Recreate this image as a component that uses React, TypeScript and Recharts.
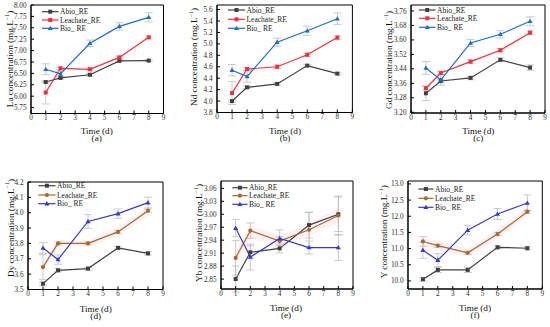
import React from 'react';
import { ComposedChart, Line, Area, XAxis, YAxis, ErrorBar, ReferenceArea } from 'recharts';

// ---------- data ----------
const days = [1, 2, 4, 6, 8];
const xTicks = [0, 1, 2, 3, 4, 5, 6, 7, 8, 9];
const seriesNames = ['Abio_RE', 'Leachate_RE', 'Bio_ RE'];

// (a) La
const laAbio = [6.31, 6.4, 6.47, 6.775, 6.78];
const laLeach = [6.08, 6.61, 6.59, 6.85, 7.29];
const laBio = [6.59, 6.49, 7.16, 7.53, 7.73];
const laAbioErr = [0.02, 0.02, 0.03, 0.02, 0.02];
const laLeachErr = [0.25, 0.03, 0.03, 0.03, 0.03];
const laBioErr = [0.12, 0.05, 0.07, 0.08, 0.1];
const laTicks = [5.75, 6.0, 6.25, 6.5, 6.75, 7.0, 7.25, 7.5, 7.75, 8.0];

// (b) Nd
const ndAbio = [4.0, 4.24, 4.3, 4.62, 4.48];
const ndLeach = [4.14, 4.56, 4.6, 4.81, 5.11];
const ndBio = [4.54, 4.43, 5.03, 5.23, 5.44];
const ndAbioErr = [0.02, 0.02, 0.02, 0.02, 0.02];
const ndLeachErr = [0.2, 0.03, 0.03, 0.03, 0.03];
const ndBioErr = [0.1, 0.1, 0.07, 0.08, 0.1];
const ndTicks = [3.8, 4.0, 4.2, 4.4, 4.6, 4.8, 5.0, 5.2, 5.4, 5.6];

// (c) Gd
const gdAbio = [3.305, 3.373, 3.39, 3.49, 3.447];
const gdLeach = [3.333, 3.417, 3.48, 3.543, 3.64];
const gdBio = [3.445, 3.379, 3.583, 3.631, 3.703];
const gdAbioErr = [0.04, 0.01, 0.01, 0.01, 0.015];
const gdLeachErr = [0.01, 0.01, 0.01, 0.01, 0.01];
const gdBioErr = [0.035, 0.03, 0.02, 0.02, 0.025];
const gdTicks = [3.2, 3.28, 3.36, 3.44, 3.52, 3.6, 3.68, 3.76];

// (d) Dy
const dyAbio = [3.538, 3.625, 3.636, 3.771, 3.735];
const dyLeach = [3.646, 3.8, 3.8, 3.875, 4.013];
const dyBio = [3.77, 3.695, 3.943, 3.994, 4.066];
const dyAbioErr = [0.01, 0.01, 0.01, 0.01, 0.01];
const dyLeachErr = [0.08, 0.01, 0.01, 0.01, 0.01];
const dyBioErr = [0.035, 0.03, 0.045, 0.03, 0.035];
const dyBandLo = [3.62, 3.78, 3.78, 3.85, 3.98];
const dyBandHi = [3.67, 3.82, 3.82, 3.9, 4.04];
const dyTicks = [3.5, 3.6, 3.7, 3.8, 3.9, 4.0, 4.1, 4.2];

// (e) Yb
const ybAbio = [2.85, 2.912, 2.921, 2.975, 3.0];
const ybLeach = [2.899, 2.962, 2.938, 2.964, 2.997];
const ybBio = [2.968, 2.901, 2.944, 2.923, 2.923];
const ybAbioErr = [0.03, 0.015, 0.01, 0.03, 0.04];
const ybLeachErr = [0.04, 0.018, 0.01, 0.04, 0.045];
const ybBioErr = [0.02, 0.03, 0.02, 0.015, 0.03];
const ybBandLo = [2.885, 2.945, 2.925, 2.95, 2.98];
const ybBandHi = [2.915, 2.975, 2.95, 2.98, 3.015];
const ybTicks = [2.85, 2.88, 2.91, 2.94, 2.97, 3.0, 3.03, 3.06];

// (f) Y
const yAbio = [10.05, 10.34, 10.34, 11.04, 11.01];
const yLeach = [11.22, 11.09, 10.87, 11.45, 12.14];
const yBio = [10.95, 10.64, 11.57, 12.07, 12.41];
const yAbioErr = [0.05, 0.08, 0.08, 0.05, 0.05];
const yLeachErr = [0.15, 0.05, 0.05, 0.05, 0.05];
const yBioErr = [0.25, 0.2, 0.15, 0.17, 0.25];
const yBandLo = [11.05, 10.95, 10.75, 11.3, 12.0];
const yBandHi = [11.35, 11.25, 11.0, 11.6, 12.3];
const yTicks = [10.0, 10.5, 11.0, 11.5, 12.0, 12.5, 13.0];

// ---------- styles ----------
const FONT = '"Liberation Serif", "DejaVu Serif", serif';
const abioColor = '#404040';
const topColors = [abioColor, '#f0303a', '#1b6dd1'];
const botColors = [abioColor, '#a8692e', '#3737d0'];
const errColor = '#bdbdbd';
const bandColor = '#fdeef1';

type Box = { l: number; r: number; t: number; b: number };
type PanelCfg = {
  element: string;
  letter: string;
  abio: number[];
  leach: number[];
  bio: number[];
  abioErr: number[];
  leachErr: number[];
  bioErr: number[];
  bandLo?: number[];
  bandHi?: number[];
  ticks: number[];
  domain: [number, number];
  dec: number;
  colors: string[];
  leachCircle: boolean;
  plot: Box;
  yTitle: [number, number];
  xTitle: [number, number];
  legend: { lx: number; tx: number; ys: number[] };
};

const panels: PanelCfg[] = [
  {
    element: 'La', letter: '(a)', abio: laAbio, leach: laLeach, bio: laBio,
    abioErr: laAbioErr, leachErr: laLeachErr, bioErr: laBioErr,
    ticks: laTicks, domain: [5.62, 8.0], dec: 2, colors: topColors, leachCircle: false,
    plot: { l: 30.5, r: 163, t: 5, b: 113.5 }, yTitle: [10, 59], xTitle: [96.7, 130.5],
    legend: { lx: 42, tx: 60, ys: [11.7, 20, 28.3] },
  },
  {
    element: 'Nd', letter: '(b)', abio: ndAbio, leach: ndLeach, bio: ndBio,
    abioErr: ndAbioErr, leachErr: ndLeachErr, bioErr: ndBioErr,
    ticks: ndTicks, domain: [3.8, 5.68], dec: 1, colors: topColors, leachCircle: false,
    plot: { l: 217.3, r: 352.7, t: 5, b: 112.5 }, yTitle: [194, 57], xTitle: [285, 130.5],
    legend: { lx: 228, tx: 246.5, ys: [10, 19.3, 28.3] },
  },
  {
    element: 'Gd', letter: '(c)', abio: gdAbio, leach: gdLeach, bio: gdBio,
    abioErr: gdAbioErr, leachErr: gdLeachErr, bioErr: gdBioErr,
    ticks: gdTicks, domain: [3.196, 3.793], dec: 2, colors: topColors, leachCircle: false,
    plot: { l: 411, r: 545, t: 5, b: 113 }, yTitle: [389, 60], xTitle: [478.3, 130.5],
    legend: { lx: 419, tx: 437, ys: [10, 18.3, 27.3] },
  },
  {
    element: 'Dy', letter: '(d)', abio: dyAbio, leach: dyLeach, bio: dyBio,
    abioErr: dyAbioErr, leachErr: dyLeachErr, bioErr: dyBioErr, bandLo: dyBandLo, bandHi: dyBandHi,
    ticks: dyTicks, domain: [3.5, 4.2], dec: 1, colors: botColors, leachCircle: true,
    plot: { l: 28, r: 163, t: 181.5, b: 289 }, yTitle: [10.5, 228], xTitle: [95.7, 308.5],
    legend: { lx: 38.3, tx: 57, ys: [185.7, 195, 203.7] },
  },
  {
    element: 'Yb', letter: '(e)', abio: ybAbio, leach: ybLeach, bio: ybBio,
    abioErr: ybAbioErr, leachErr: ybLeachErr, bioErr: ybBioErr, bandLo: ybBandLo, bandHi: ybBandHi,
    ticks: ybTicks, domain: [2.827, 3.077], dec: 2, colors: botColors, leachCircle: true,
    plot: { l: 221, r: 353, t: 181, b: 289 }, yTitle: [199, 233], xTitle: [286, 307.5],
    legend: { lx: 232.3, tx: 249, ys: [187.7, 195.7, 204.3] },
  },
  {
    element: 'Y', letter: '(f)', abio: yAbio, leach: yLeach, bio: yBio,
    abioErr: yAbioErr, leachErr: yLeachErr, bioErr: yBioErr, bandLo: yBandLo, bandHi: yBandHi,
    ticks: yTicks, domain: [9.75, 13.09], dec: 1, colors: botColors, leachCircle: true,
    plot: { l: 407.7, r: 542, t: 181, b: 289 }, yTitle: [384.5, 231.7], xTitle: [475, 307.5],
    legend: { lx: 418.3, tx: 435, ys: [189, 198.3, 207.3] },
  },
];

// ---------- markers ----------
function Marker({ kind, cx, cy, color }: { kind: string; cx: number; cy: number; color: string }) {
  if (cx == null || cy == null) return null;
  if (kind === 'square') return <rect x={cx - 2} y={cy - 2} width={4} height={4} fill={color} />;
  if (kind === 'circle') return <circle cx={cx} cy={cy} r={2.1} fill={color} />;
  return <polygon points={`${cx},${cy - 2.6} ${cx - 2.5},${cy + 1.8} ${cx + 2.5},${cy + 1.8}`} fill={color} />;
}

const TOPM = 7;

function Panel({ cfg }: { cfg: PanelCfg }) {
  const { plot } = cfg;
  const data = days.map((d, i) => ({
    day: d,
    abio: cfg.abio[i], abioErr: cfg.abioErr[i],
    leach: cfg.leach[i], leachErr: cfg.leachErr[i],
    bio: cfg.bio[i], bioErr: cfg.bioErr[i],
    band: cfg.bandLo && cfg.bandHi ? [cfg.bandLo[i], cfg.bandHi[i]] : null,
  }));
  const cw = plot.r - plot.l + 34;
  const ch = plot.b - plot.t + TOPM + 15;
  const kinds = ['square', cfg.leachCircle ? 'circle' : 'square', 'triangle'];
  const keys = ['abio', 'leach', 'bio'];
  const tickStyle = { fontSize: 7.2, fill: '#2a2a2a', fontFamily: FONT };
  return (
    <div style={{ position: 'absolute', left: plot.l - 30, top: plot.t - TOPM }}>
      <ComposedChart width={cw} height={ch} data={data} margin={{ top: TOPM, right: 4, bottom: 0, left: 0 }}>
        <ReferenceArea x1={0} x2={9} y1={cfg.domain[0]} y2={cfg.domain[1]} fill="none" stroke="#000" strokeWidth={1} ifOverflow="visible" />
        <XAxis dataKey="day" type="number" domain={[0, 9]} ticks={xTicks} interval={0} height={15}
          tickSize={-3} tickMargin={4.5} tick={tickStyle} axisLine={{ stroke: '#000' }} tickLine={{ stroke: '#000' }} allowDataOverflow />
        <YAxis type="number" domain={cfg.domain} ticks={cfg.ticks} interval={0} width={30}
          tickSize={-3} tickMargin={7.5} tick={tickStyle} tickFormatter={(v: number) => v.toFixed(cfg.dec)}
          axisLine={{ stroke: '#000' }} tickLine={{ stroke: '#000' }} allowDataOverflow />
        {cfg.bandLo ? (
          <Area dataKey="band" type="linear" stroke="none" fill={bandColor} fillOpacity={0.85}
            isAnimationActive={false} dot={false} activeDot={false} />
        ) : null}
        {keys.map((k, si) => (
          <Line key={k} dataKey={k} type="linear" stroke={cfg.colors[si]} strokeWidth={1.2}
            isAnimationActive={false}
            dot={(p: any) => <Marker key={`${k}-${p.index}`} kind={kinds[si]} cx={p.cx} cy={p.cy} color={cfg.colors[si]} />}
            activeDot={false}>
            <ErrorBar dataKey={`${k}Err`} width={4} stroke={errColor} strokeWidth={0.8} direction="y" isAnimationActive={false} />
          </Line>
        ))}
      </ComposedChart>
    </div>
  );
}

function Overlay() {
  const kindsTop = ['square', 'square', 'triangle'];
  const kindsBot = ['square', 'circle', 'triangle'];
  return (
    <svg width={550} height={327} style={{ position: 'absolute', left: 0, top: 0, pointerEvents: 'none' }}>
      {panels.map((cfg, pi) => {
        const kinds = cfg.leachCircle ? kindsBot : kindsTop;
        return (
          <g key={pi} fontFamily={FONT}>
            <text x={cfg.yTitle[0]} y={cfg.yTitle[1]} fontSize={9.2} fill="#111" textAnchor="middle"
              dominantBaseline="central" transform={`rotate(-90 ${cfg.yTitle[0]} ${cfg.yTitle[1]})`}>
              {`${cfg.element} concentration (mg.L`}
              <tspan fontSize={6} dy={-3.5}>{'−1'}</tspan>
              <tspan dy={3.5}>{')'}</tspan>
            </text>
            <text x={cfg.xTitle[0]} y={cfg.xTitle[1]} fontSize={9.2} fill="#111" textAnchor="middle" dominantBaseline="central">Time (d)</text>
            <text x={cfg.xTitle[0]} y={cfg.xTitle[1] + 7} fontSize={9.2} fill="#111" textAnchor="middle" dominantBaseline="central">{cfg.letter}</text>
            {seriesNames.map((n, si) => {
              const y = cfg.legend.ys[si];
              const lx = cfg.legend.lx;
              const rx = cfg.legend.tx - 1.5;
              return (
                <g key={n}>
                  <line x1={lx} x2={rx} y1={y} y2={y} stroke={cfg.colors[si]} strokeWidth={1.2} />
                  <Marker kind={kinds[si]} cx={(lx + rx) / 2} cy={y} color={cfg.colors[si]} />
                  <text x={cfg.legend.tx} y={y} fontSize={7.5} fill="#222" dominantBaseline="central">{n}</text>
                </g>
              );
            })}
          </g>
        );
      })}
    </svg>
  );
}

export default function App() {
  return (
    <div style={{ position: 'absolute', left: 0, top: 0, width: 550, height: 327, background: '#fff', fontFamily: FONT }}>
      {panels.map((cfg, i) => <Panel key={i} cfg={cfg} />)}
      <Overlay />
    </div>
  );
}
